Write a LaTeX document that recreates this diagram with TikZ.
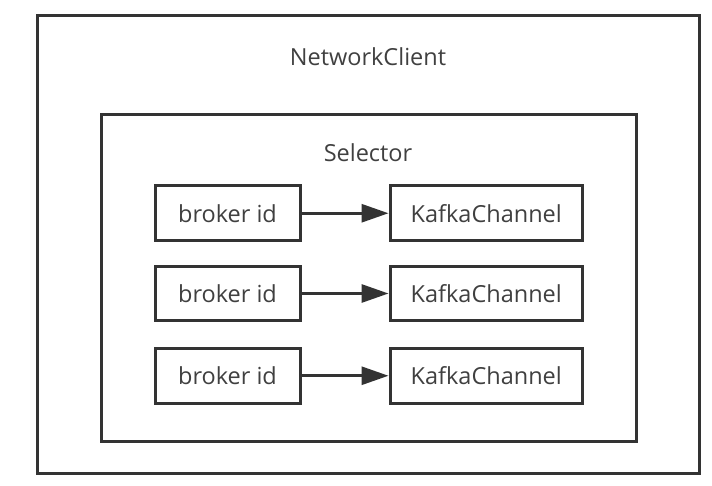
\documentclass[tikz,border=0pt]{standalone}
\usepackage{fontspec}
\setmainfont{Open Sans}
\usetikzlibrary{arrows.meta}
\definecolor{ink}{HTML}{333333}
\definecolor{txt}{HTML}{404040}
\begin{document}
\begin{tikzpicture}[x=1pt,y=-1pt,
  frame/.style={draw=ink,line width=3pt,fill=white,inner sep=0pt},
  cell/.style={draw=ink,line width=3pt,fill=white,inner sep=0pt,minimum height=54.5pt,font=\fontsize{23.5}{28}\selectfont,text=txt},
  lbl/.style={font=\fontsize{23.5}{28}\selectfont,text=txt,inner sep=0pt},
  conn/.style={draw=ink,line width=3pt,-{Triangle[length=27pt,width=18pt]}}]
\useasboundingbox (0,0) rectangle (712,486);
\fill[white] (0,0) rectangle (712,486);
\draw[frame] (37.5,15.5) rectangle (699,473);
\node[lbl] (nc) at (368,57) {NetworkClient};
\draw[frame] (101,114.5) rectangle (636,441.5);
\node[lbl] (sel) at (368,153) {Selector};
\foreach \i/\c in {1/213.25,2/293.5,3/375.75}{
  \node[cell,minimum width=145pt] (b\i) at (227.5,\c) {broker id};
  \node[cell,minimum width=192.5pt] (k\i) at (486.25,\c) {KafkaChannel};
  \draw[conn] (b\i) -- (k\i);
}
\end{tikzpicture}
\end{document}
